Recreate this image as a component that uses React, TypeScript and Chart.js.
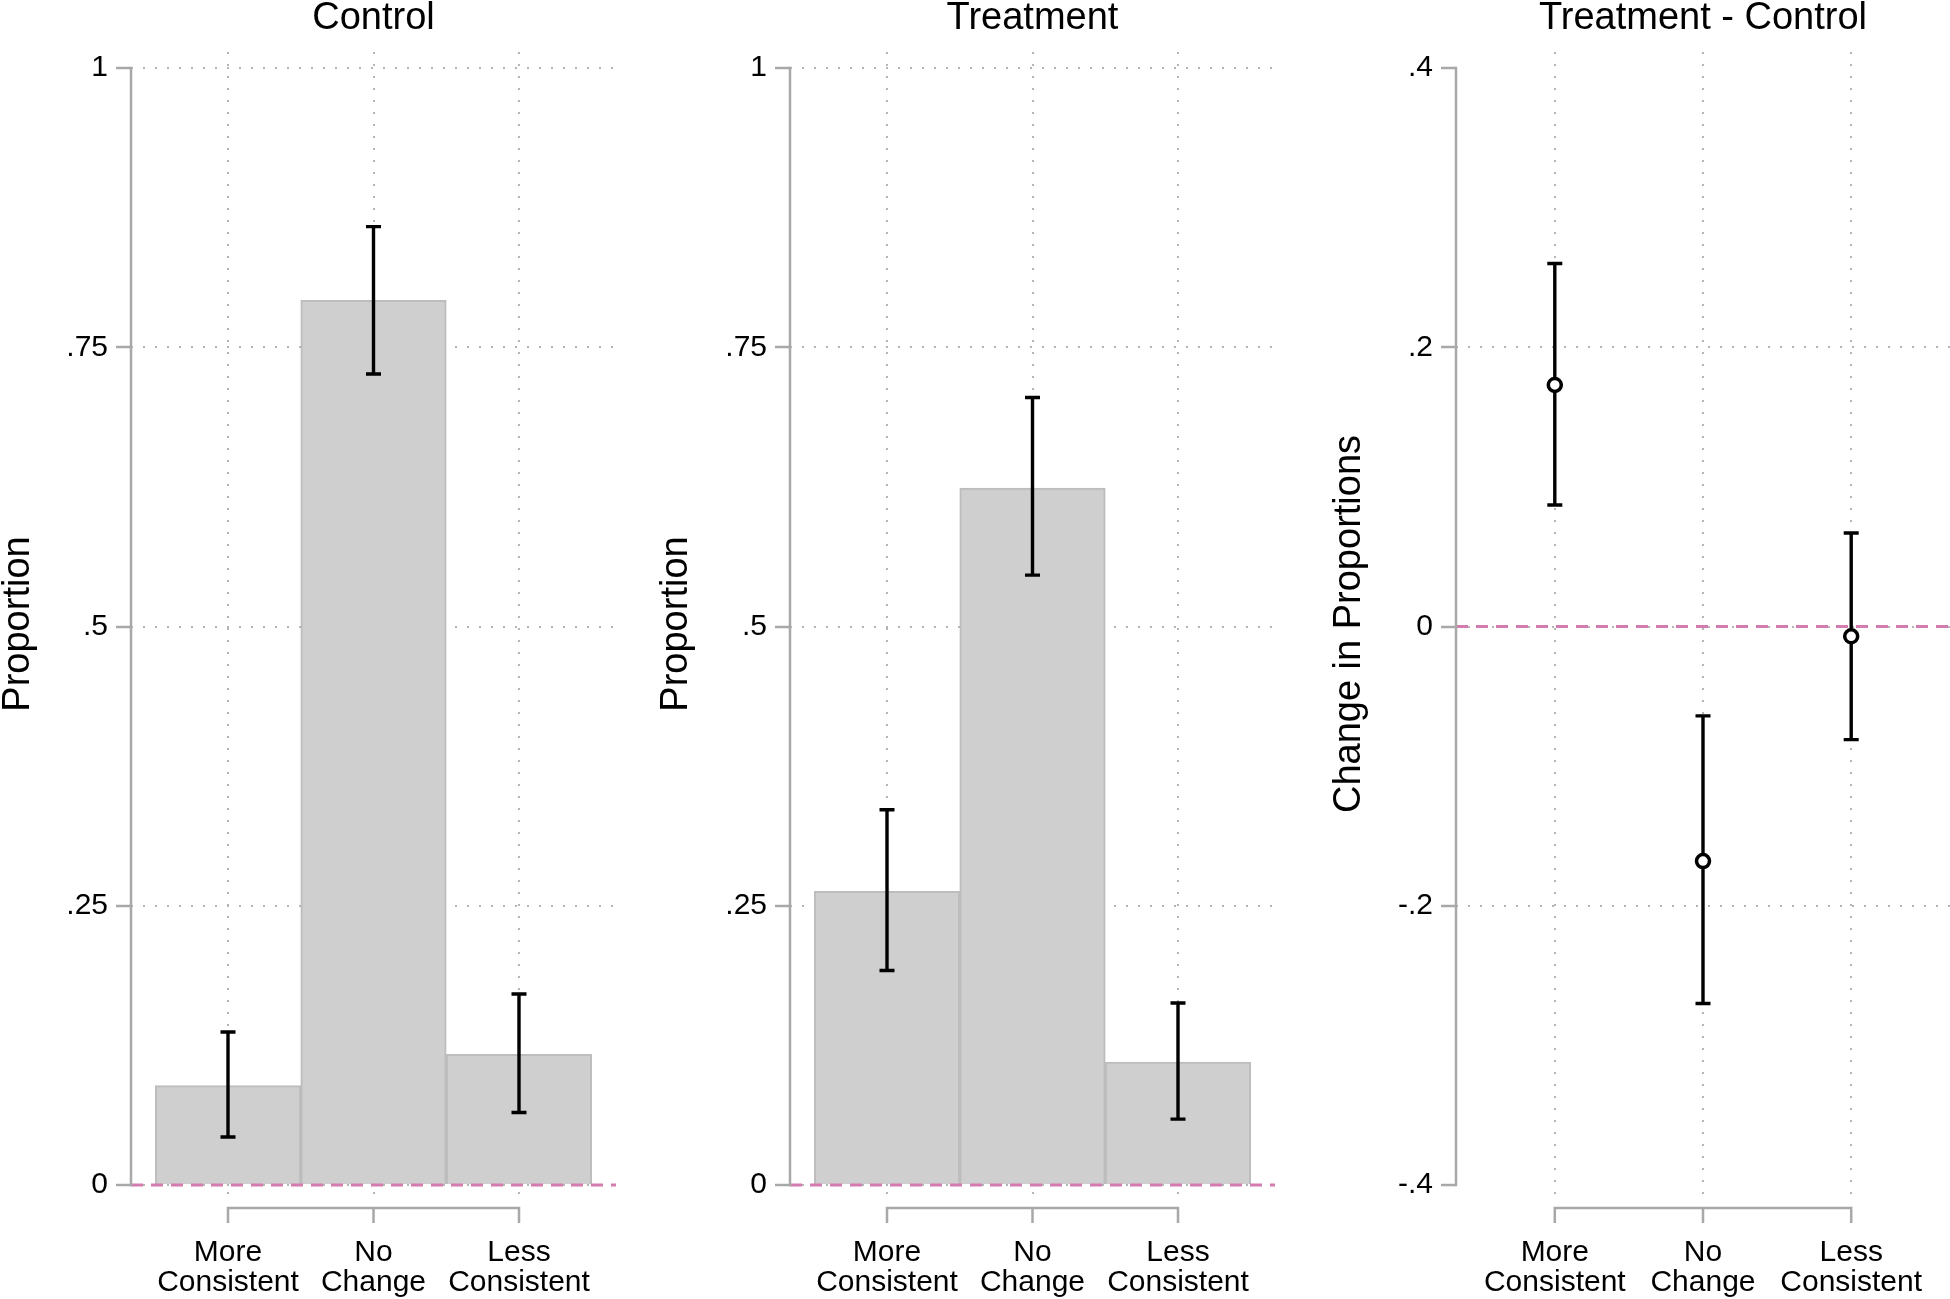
import React, { useEffect, useRef } from "react";
import { Chart, registerables } from "chart.js";

Chart.register(...registerables);

// ---------------- data ----------------
const categoryLabels = [
  ["More", "Consistent"],
  ["No", "Change"],
  ["Less", "Consistent"],
];
const categoryPositions = [1, 2, 3];

const controlMeans = [0.089, 0.792, 0.117];
const controlLower = [0.043, 0.726, 0.065];
const controlUpper = [0.137, 0.858, 0.171];

const treatmentMeans = [0.263, 0.624, 0.11];
const treatmentLower = [0.192, 0.546, 0.059];
const treatmentUpper = [0.336, 0.705, 0.163];

const diffMeans = [0.173, -0.168, -0.007];
const diffLower = [0.087, -0.27, -0.081];
const diffUpper = [0.26, -0.064, 0.067];

const proportionTicks = [0, 0.25, 0.5, 0.75, 1];
const diffTicks = [-0.4, -0.2, 0, 0.2, 0.4];

// ---------------- style ----------------
const FONT = "'Liberation Sans', Arial, Helvetica, sans-serif";
const AXIS = "#a8a8a8";
const GRID = "#b4b4b4";
const PINK = "#d47cb0";
const BAR_FILL = "#cfcfcf";
const BAR_EDGE = "#bdbdbd";
const CANVAS_H = 1299;
const X_AXIS_H = 103;

type Panel = {
  title: string;
  yTitle: string;
  kind: "bar" | "point";
  means: number[];
  lower: number[];
  upper: number[];
  ticks: number[];
  yMin: number;
  yMax: number;
  hideGrid: number[];
  canvasLeft: number;
  canvasWidth: number;
  chartLeft: number;
  chartRight: number;
  yTitlePad: number;
};

const panels: Panel[] = [
  {
    title: "Control",
    yTitle: "Proportion",
    kind: "bar",
    means: controlMeans,
    lower: controlLower,
    upper: controlUpper,
    ticks: proportionTicks,
    yMin: -0.0098,
    yMax: 1.0143,
    hideGrid: [],
    canvasLeft: 0,
    canvasWidth: 650,
    chartLeft: 131,
    chartRight: 616,
    yTitlePad: 0,
  },
  {
    title: "Treatment",
    yTitle: "Proportion",
    kind: "bar",
    means: treatmentMeans,
    lower: treatmentLower,
    upper: treatmentUpper,
    ticks: proportionTicks,
    yMin: -0.0098,
    yMax: 1.0143,
    hideGrid: [],
    canvasLeft: 650,
    canvasWidth: 650,
    chartLeft: 140,
    chartRight: 625,
    yTitlePad: 8,
  },
  {
    title: "Treatment - Control",
    yTitle: "Change in Proportions",
    kind: "point",
    means: diffMeans,
    lower: diffLower,
    upper: diffUpper,
    ticks: diffTicks,
    yMin: -0.4079,
    yMax: 0.4115,
    hideGrid: [-0.4, 0.4],
    canvasLeft: 1300,
    canvasWidth: 660,
    chartLeft: 156,
    chartRight: 660,
    yTitlePad: 31,
  },
];

function fmtTick(v: number): string {
  if (Math.abs(v) < 1e-9) return "0";
  const s = String(Math.round(v * 1000) / 1000);
  return s.replace(/^(-?)0\./, "$1.");
}

const stataPlugin = {
  id: "stata",
  afterDatasetDraw(chart: any, args: any, opts: any) {
    if (args.index !== opts.refIndex) return;
    const { ctx } = chart;
    const xs = chart.scales.x;
    const ys = chart.scales.y;
    ctx.save();
    ctx.strokeStyle = "#000";
    ctx.lineWidth = 3.4;
    ctx.lineCap = "butt";
    categoryPositions.forEach((p: number, i: number) => {
      const px = xs.getPixelForValue(p);
      const top = ys.getPixelForValue(opts.upper[i]);
      const bot = ys.getPixelForValue(opts.lower[i]);
      ctx.beginPath();
      ctx.moveTo(px, top);
      ctx.lineTo(px, bot);
      ctx.moveTo(px - 7.5, top);
      ctx.lineTo(px + 7.5, top);
      ctx.moveTo(px - 7.5, bot);
      ctx.lineTo(px + 7.5, bot);
      ctx.stroke();
    });
    ctx.restore();
  },
  afterDraw(chart: any, _args: any, opts: any) {
    const { ctx, chartArea } = chart;
    const xs = chart.scales.x;
    const ys = chart.scales.y;
    const ticks: number[] = opts.ticks;
    ctx.save();
    ctx.strokeStyle = AXIS;
    ctx.lineWidth = 2.5;
    const yTop = ys.getPixelForValue(ticks[ticks.length - 1]);
    const yBot = ys.getPixelForValue(ticks[0]);
    const ax = chartArea.left;
    ctx.beginPath();
    ctx.moveTo(ax, yTop - 1.25);
    ctx.lineTo(ax, yBot + 1.25);
    ctx.stroke();

    const by = chartArea.bottom + 12;
    const x1 = xs.getPixelForValue(categoryPositions[0]);
    const x3 = xs.getPixelForValue(categoryPositions[categoryPositions.length - 1]);
    ctx.beginPath();
    ctx.moveTo(x1, by + 15);
    ctx.lineTo(x1, by);
    ctx.lineTo(x3, by);
    ctx.lineTo(x3, by + 15);
    categoryPositions.slice(1, -1).forEach((p: number) => {
      const px = xs.getPixelForValue(p);
      ctx.moveTo(px, by);
      ctx.lineTo(px, by + 15);
    });
    ctx.stroke();
    ctx.restore();
  },
};

function PanelChart({ panel }: { panel: Panel }) {
  const ref = useRef<HTMLCanvasElement | null>(null);
  useEffect(() => {
    if (!ref.current) return;
    const xMin = 1 / 3;
    const xMax = 11 / 3;
    const pts = categoryPositions.map((p, i) => ({ x: p, y: panel.means[i] }));
    const zeroLine = {
      type: "line",
      data: [
        { x: xMin, y: 0 },
        { x: xMax, y: 0 },
      ],
      borderColor: PINK,
      borderWidth: 3,
      borderDash: [12, 8],
      pointRadius: 0,
      order: 1,
    };
    const main =
      panel.kind === "bar"
        ? {
            type: "bar",
            data: pts,
            backgroundColor: BAR_FILL,
            borderColor: BAR_EDGE,
            borderWidth: 2,
            categoryPercentage: 1,
            barPercentage: 1,
            order: 2,
          }
        : {
            type: "line",
            data: pts,
            showLine: false,
            pointRadius: 6.5,
            pointBorderWidth: 3.5,
            pointBackgroundColor: "#ffffff",
            pointBorderColor: "#000000",
            order: 0,
          };

    const chart = new Chart(ref.current, {
      type: "line",
      data: { datasets: [main as any, zeroLine as any] },
      plugins: [stataPlugin as any],
      options: {
        responsive: false,
        animation: false,
        devicePixelRatio: 1,
        layout: { padding: { left: 0, top: 0, bottom: 0, right: panel.canvasWidth - panel.chartRight } },
        font: { family: FONT },
        plugins: {
          legend: { display: false },
          tooltip: { enabled: false },
          title: {
            display: true,
            text: panel.title,
            fullSize: false,
            color: "#000",
            font: { family: FONT, size: 38, weight: "normal", lineHeight: 1 },
            padding: { top: 0, bottom: 14 },
          },
          stata: {
            refIndex: 1,
            lower: panel.lower,
            upper: panel.upper,
            ticks: panel.ticks,
          },
        } as any,
        scales: {
          x: {
            type: "linear",
            min: xMin,
            max: xMax,
            offset: false,
            afterBuildTicks: (s: any) => {
              s.ticks = categoryPositions.map((v) => ({ value: v }));
            },
            afterFit: (s: any) => {
              s.height = X_AXIS_H;
              s.paddingLeft = 0;
              s.paddingRight = 0;
            },
            ticks: {
              autoSkip: false,
              maxRotation: 0,
              minRotation: 0,
              padding: 0,
              color: "#000",
              font: { family: FONT, size: 30, lineHeight: 1.02 },
              callback: (_v: any, i: number) => categoryLabels[i],
            },
            grid: {
              offset: false,
              drawTicks: true,
              tickLength: 41,
              tickColor: "rgba(0,0,0,0)",
              color: GRID,
              lineWidth: 2,
            },
            border: { display: false, dash: [2, 10] },
          },
          y: {
            type: "linear",
            min: panel.yMin,
            max: panel.yMax,
            afterBuildTicks: (s: any) => {
              s.ticks = panel.ticks.map((v) => ({ value: v }));
            },
            afterFit: (s: any) => {
              s.width = panel.chartLeft;
            },
            ticks: {
              padding: 8,
              color: "#000",
              font: { family: FONT, size: 30 },
              callback: (v: any) => fmtTick(Number(v)),
            },
            grid: {
              color: (c: any) => {
                const v = c.tick ? c.tick.value : 0;
                return panel.hideGrid.some((h) => Math.abs(h - v) < 1e-6) ? "rgba(0,0,0,0)" : GRID;
              },
              lineWidth: 2,
              tickLength: 15,
              tickColor: AXIS,
              tickWidth: 2.5,
              tickBorderDash: [],
            },
            border: { display: false, dash: [2, 10] },
            title: {
              display: true,
              text: panel.yTitle,
              color: "#000",
              font: { family: FONT, size: 38, lineHeight: 1 },
              padding: { top: panel.yTitlePad, bottom: 0 },
            },
          },
        },
      } as any,
    });
    return () => chart.destroy();
  }, [panel]);

  return (
    <canvas
      ref={ref}
      width={panel.canvasWidth}
      height={CANVAS_H}
      style={{
        position: "absolute",
        left: panel.canvasLeft,
        top: 0,
        width: panel.canvasWidth,
        height: CANVAS_H,
      }}
    />
  );
}

export default function App() {
  return (
    <div
      style={{
        position: "absolute",
        left: 0,
        top: 0,
        width: 1950,
        height: CANVAS_H,
        background: "#ffffff",
        overflow: "hidden",
      }}
    >
      {panels.map((p) => (
        <PanelChart key={p.title} panel={p} />
      ))}
    </div>
  );
}
